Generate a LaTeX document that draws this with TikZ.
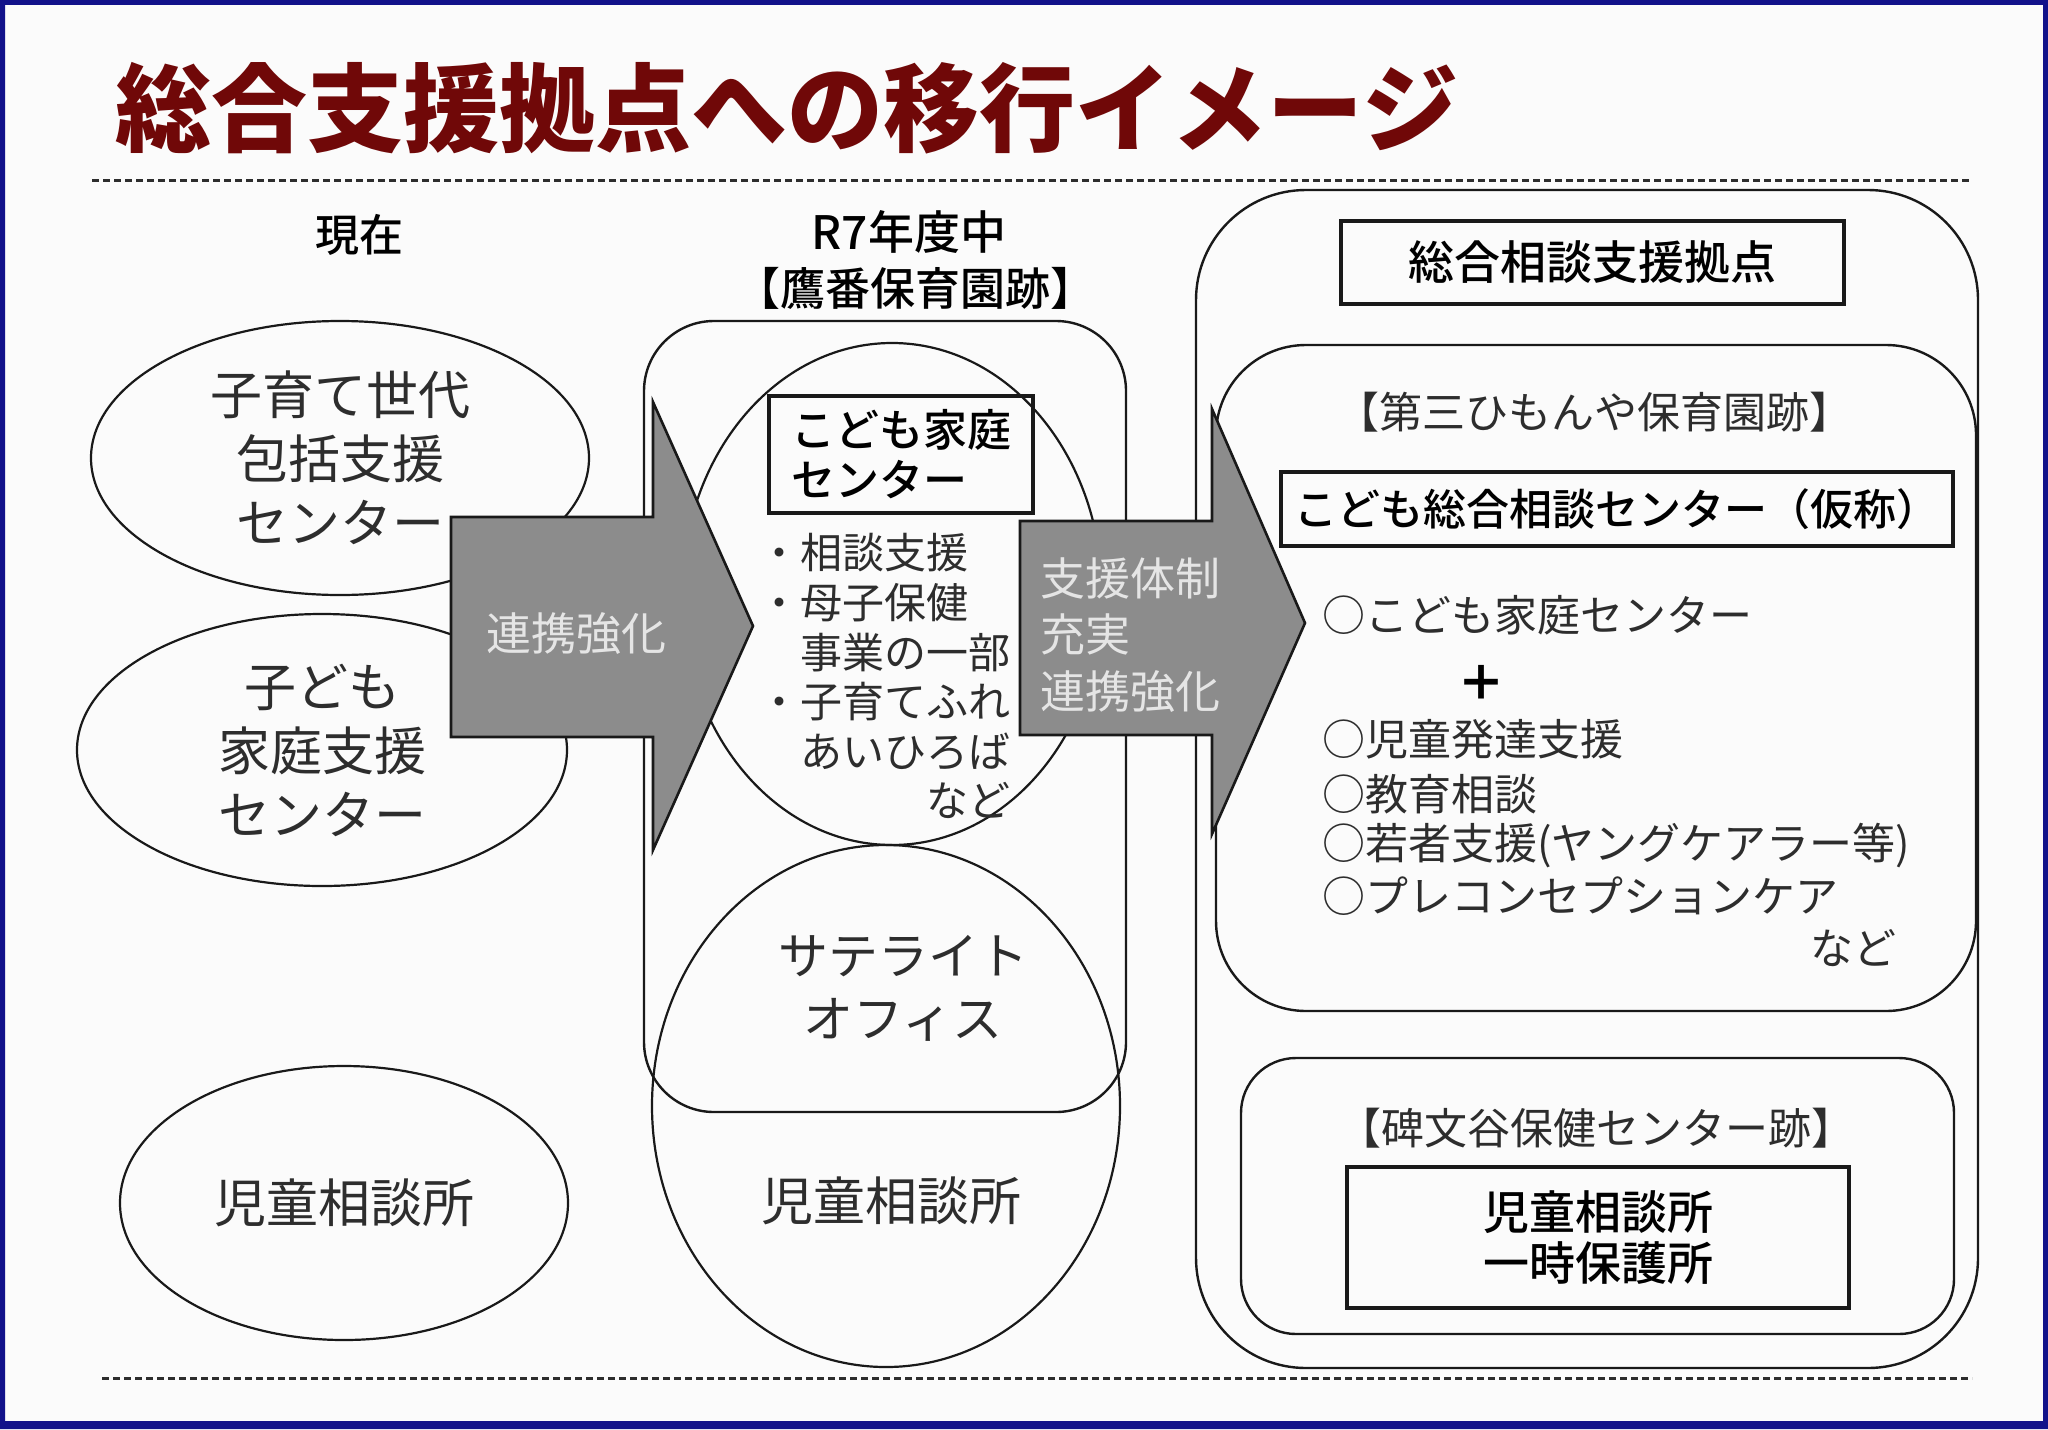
\documentclass[tikz,border=0pt]{standalone}
\usepackage{fontspec}
\setmainfont{Noto Sans CJK JP}
\newfontfamily\medfont{Noto Sans CJK JP Medium}
\usetikzlibrary{shapes.geometric}
\definecolor{frameblue}{RGB}{18,18,138}
\definecolor{titlered}{RGB}{112,8,8}
\definecolor{txt}{RGB}{45,45,45}
\definecolor{arrowgray}{RGB}{140,140,140}
\definecolor{bgc}{RGB}{251,251,251}
\definecolor{linec}{RGB}{25,25,25}
\newcommand\myfs[2]{\fontsize{#1}{#2}\selectfont}
\begin{document}
\begin{tikzpicture}[x=0.5pt,y=-0.5pt,
  oval/.style={ellipse, draw=linec, line width=1.1pt, inner sep=0pt, text=txt, align=center},
  rbox/.style={rectangle, draw=linec, line width=1.2pt, inner sep=0pt},
  tbox/.style={rectangle, draw=linec, line width=2pt, inner sep=0pt, text=black},
  lbl/.style={inner sep=0pt, text=txt},
  blockarrow/.style={fill=arrowgray, draw=linec, line width=1.3pt, line join=miter},
  arrowtext/.style={inner sep=0pt, text=white!90!black, align=left},
  sepline/.style={draw=txt, line width=1.5pt, dash pattern=on 3.5pt off 2pt},
]
\useasboundingbox (0,0) rectangle (2048,1429);
\fill[bgc] (0,0) rectangle (2048,1429);
\fill[frameblue, even odd rule] (0,0) rectangle (2048,1429) (5,5) rectangle (2043,1421);

% title
\node[inner sep=0pt, text=titlered, font=\myfs{48pt}{48pt}\bfseries] (title) at (787,108) {総合支援拠点への移行イメージ};

% separators
\coordinate (s1a) at (92,180); \coordinate (s1b) at (1972,180);
\coordinate (s2a) at (102,1378); \coordinate (s2b) at (1972,1378);
\draw[sepline] (s1a) -- (s1b);
\draw[sepline] (s2a) -- (s2b);

% left column
\node[lbl, text=black, font=\myfs{22pt}{22pt}\medfont] (now) at (359,235) {現在};
\node[oval, minimum width=249pt, minimum height=137pt, font=\myfs{26pt}{32pt}] (e1) at (340,458) {子育て世代\\包括支援\\センター};
\node[oval, minimum width=245pt, minimum height=136pt, font=\myfs{26pt}{32pt}] (e2) at (322,750) {子ども\\家庭支援\\センター};
\node[oval, minimum width=224pt, minimum height=137pt, font=\myfs{26pt}{32pt}] (e3) at (344,1203) {児童相談所};

% middle column
\node[lbl, text=black, font=\myfs{23pt}{23pt}\medfont] (r7) at (909,232) {R7年度中};
\node[lbl, text=black, font=\myfs{22.5pt}{22.5pt}\medfont] (takaban) at (915,288) {【鷹番保育園跡】};
\node[rbox, rounded corners=35pt, minimum width=241pt, minimum height=395.5pt] (midrect) at (885,716.5) {};
\node[ellipse, draw=linec, line width=1.1pt, inner sep=0pt, minimum width=210pt, minimum height=251pt] (circ) at (892,594) {};
\node[ellipse, draw=linec, line width=1.1pt, inner sep=0pt, minimum width=234pt, minimum height=261pt] (lowe) at (886,1106) {};
\node[tbox, minimum width=132pt, minimum height=58.5pt, align=left, font=\myfs{22pt}{25pt}\medfont] (kbox) at (901,454.5) {こども家庭\\センター};
\node[lbl, anchor=west, align=left, font=\myfs{21pt}{24.8pt}] (blist) at (758,677) {・相談支援\\・母子保健\\\phantom{・}事業の一部\\・子育てふれ\\\phantom{・}あいひろば\\\phantom{・子育て}など};
\node[lbl, align=center, font=\myfs{25pt}{31.5pt}] (sat) at (903,988) {サテライト\\オフィス};
\node[lbl, font=\myfs{26pt}{26pt}] (jido2) at (891,1201) {児童相談所};

% right column
\node[rbox, rounded corners=55pt, minimum width=391pt, minimum height=589pt] (outer) at (1587,779) {};
\node[tbox, minimum width=251.5pt, minimum height=41.5pt, font=\myfs{23pt}{23pt}\medfont] (sogo) at (1592.5,262.5) {総合相談支援拠点};
\node[rbox, rounded corners=45pt, minimum width=380pt, minimum height=333pt] (inner1) at (1596,678) {};
\node[lbl, font=\myfs{21.5pt}{21.5pt}] (daisan) at (1594.5,412) {【第三ひもんや保育園跡】};
\node[tbox, minimum width=336pt, minimum height=37pt, font=\myfs{21.5pt}{21.5pt}\medfont] (kodomo) at (1617,509) {こども総合相談センター（仮称）};
\node[lbl, anchor=west, font=\myfs{21.5pt}{21.5pt}] (r1) at (1322,615) {○こども家庭センター};
\node[inner sep=0pt, text=black, font=\myfs{24pt}{24pt}\bfseries] (plus) at (1481,683) {＋};
\node[lbl, anchor=west, font=\myfs{21.5pt}{21.5pt}] (r2) at (1322,739) {○児童発達支援};
\node[lbl, anchor=west, font=\myfs{21.5pt}{21.5pt}] (r3) at (1322,794) {○教育相談};
\node[lbl, anchor=west, font=\myfs{21.5pt}{21.5pt}] (r4) at (1322,846) {○若者支援(ヤングケアラー等)};
\node[lbl, anchor=west, font=\myfs{21.5pt}{21.5pt}] (r5) at (1322,896) {○プレコンセプションケア};
\node[lbl, anchor=east, font=\myfs{21.5pt}{21.5pt}] (r6) at (1897,948) {など};
\node[rbox, rounded corners=27.5pt, minimum width=356.5pt, minimum height=138pt] (inner2) at (1597.5,1196) {};
\node[lbl, font=\myfs{21.5pt}{21.5pt}] (himon) at (1596,1128) {【碑文谷保健センター跡】};
\node[tbox, minimum width=251pt, minimum height=70.5pt, align=center, font=\myfs{23pt}{25.5pt}\medfont] (jbox) at (1598,1237.5) {児童相談所\\一時保護所};

% block arrows
\draw[blockarrow] (451,517) -- (653,517) -- (653,402) -- (753,626) -- (653,850) -- (653,737) -- (451,737) -- cycle;
\node[arrowtext, font=\myfs{22.5pt}{22.5pt}] (a1t) at (576,634) {連携強化};
\draw[blockarrow] (1020,521) -- (1212,521) -- (1212,409) -- (1305,623) -- (1212,834) -- (1212,735) -- (1020,735) -- cycle;
\node[arrowtext, anchor=west, font=\myfs{22.5pt}{28.25pt}] (a2t) at (1040,635) {支援体制\\充実\\連携強化};
\end{tikzpicture}
\end{document}
